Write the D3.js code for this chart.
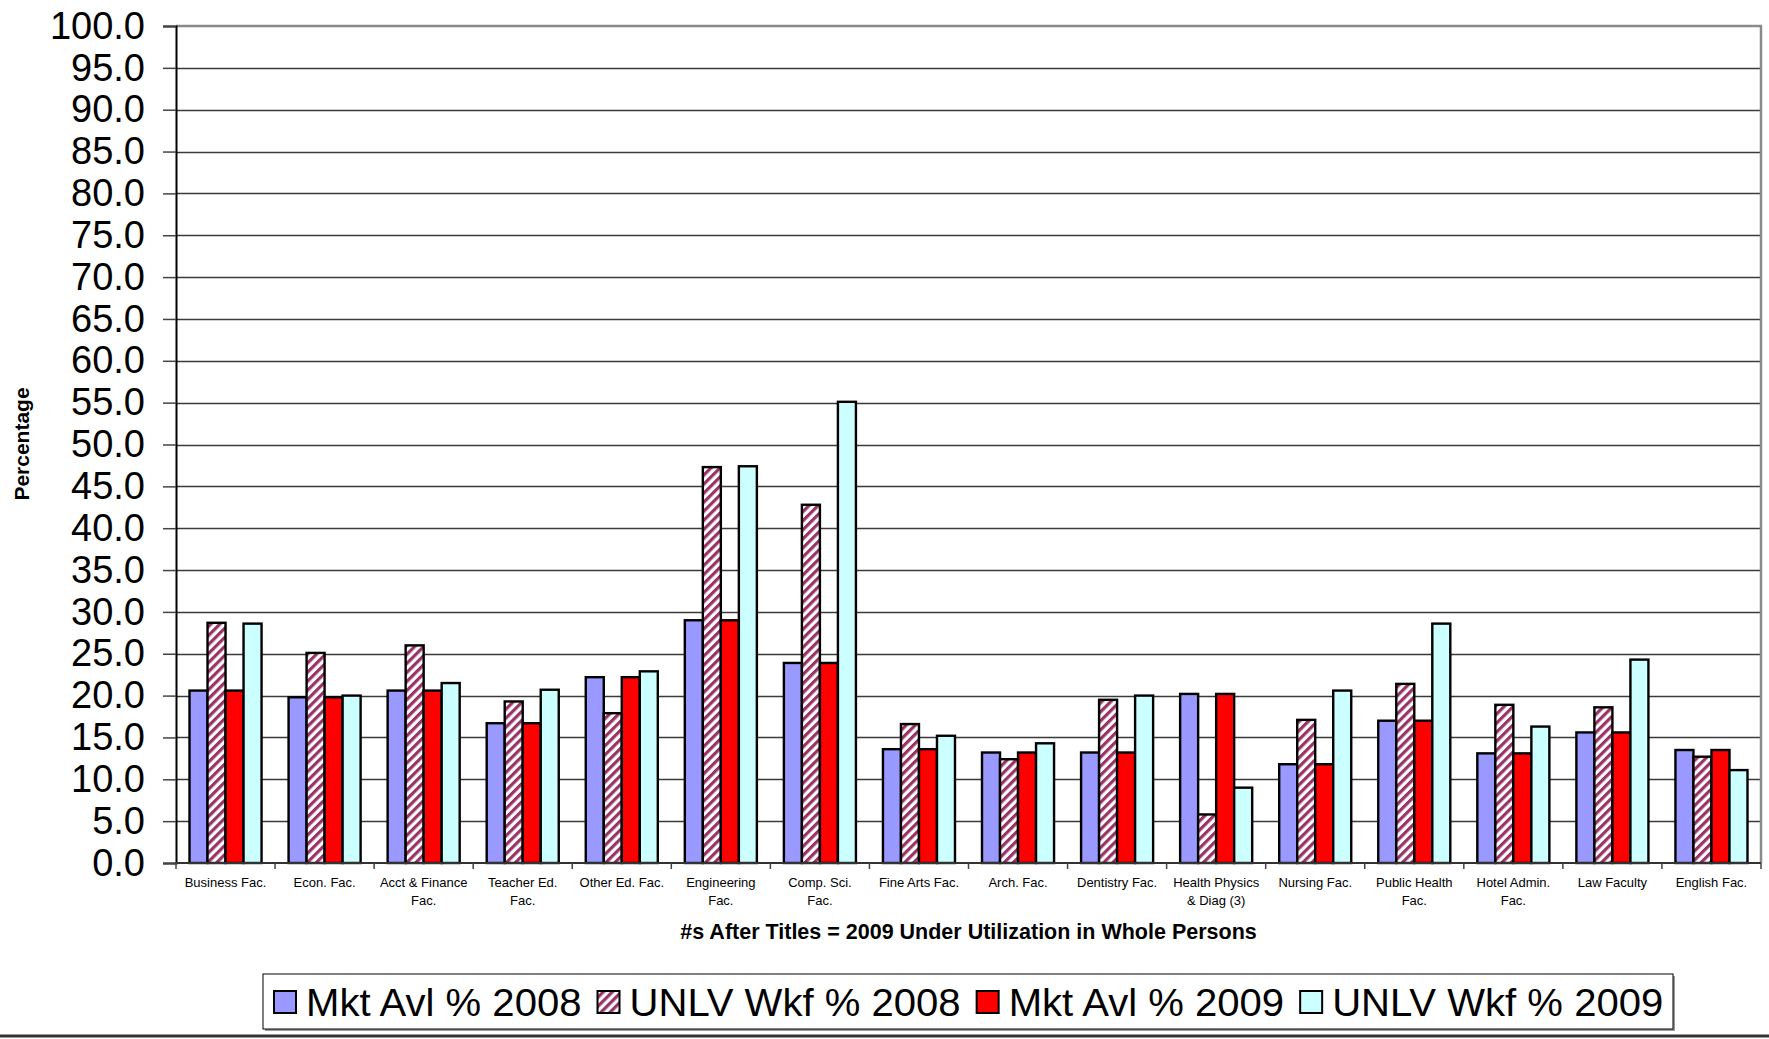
<!DOCTYPE html>
<html>
<head>
<meta charset="utf-8">
<script src="https://cdn.jsdelivr.net/npm/d3@7"></script>
<style>
  html, body { margin: 0; padding: 0; background: #fff; }
  svg { display: block; font-family: "Liberation Sans", Arial, sans-serif; }
</style>
</head>
<body>
<svg id="chart" width="1769" height="1039"></svg>
<script>
// Faculty categories (line breaks mark wrapped axis labels)
const categories = [
  "Business Fac.", "Econ. Fac.", "Acct & Finance\nFac.", "Teacher Ed.\nFac.",
  "Other Ed. Fac.", "Engineering\nFac.", "Comp. Sci.\nFac.", "Fine Arts Fac.",
  "Arch. Fac.", "Dentistry Fac.", "Health Physics\n& Diag (3)", "Nursing Fac.",
  "Public Health\nFac.", "Hotel Admin.\nFac.", "Law Faculty", "English Fac."
];

const seriesNames = ["Mkt Avl % 2008", "UNLV Wkf % 2008", "Mkt Avl % 2009", "UNLV Wkf % 2009"];

const mktAvl2008  = [20.6, 19.8, 20.6, 16.7, 22.2, 29.0, 23.9, 13.6, 13.2, 13.2, 20.2, 11.8, 17.0, 13.1, 15.6, 13.5];
const unlvWkf2008 = [28.7, 25.1, 26.0, 19.3, 17.9, 47.3, 42.8, 16.6, 12.4, 19.5,  5.8, 17.1, 21.4, 18.9, 18.6, 12.7];
const mktAvl2009  = [20.6, 19.8, 20.6, 16.7, 22.2, 29.0, 23.9, 13.6, 13.2, 13.2, 20.2, 11.8, 17.0, 13.1, 15.6, 13.5];
const unlvWkf2009 = [28.6, 20.0, 21.5, 20.7, 22.9, 47.4, 55.1, 15.2, 14.3, 20.0,  9.0, 20.6, 28.6, 16.3, 24.3, 11.1];

const yTicks = d3.range(0, 100.001, 5);

const seriesValues = [mktAvl2008, unlvWkf2008, mktAvl2009, unlvWkf2009];

const svg = d3.select("#chart");
const plot = { left: 176, right: 1761, top: 26, bottom: 863 };

// Hatched fill for the UNLV 2008 series
const defs = svg.append("defs");
const pat = defs.append("pattern")
  .attr("id", "hatch")
  .attr("patternUnits", "userSpaceOnUse")
  .attr("width", 6.4).attr("height", 6.4)
  .attr("patternTransform", "rotate(45)");
pat.append("rect").attr("width", 6.4).attr("height", 6.4).attr("fill", "#ffffff");
pat.append("rect").attr("width", 3.2).attr("height", 6.4).attr("fill", "#993366");

const fills = ["#9999FF", "url(#hatch)", "#FF0000", "#CCFFFF"];

const x = d3.scaleBand().domain(d3.range(categories.length))
  .range([plot.left, plot.right]).padding(0);
// four bars per group, with a gap of 150% of a bar width split around the group
const xs = d3.scaleBand().domain(d3.range(4))
  .range([x.bandwidth() * 0.75 / 5.5, x.bandwidth() * (1 - 0.75 / 5.5)]).padding(0);

const y = d3.scaleLinear().domain([0, 100]).range([plot.bottom, plot.top]);

// Horizontal gridlines
svg.append("g").selectAll("line").data(yTicks.filter(d => d > 0 && d < 100)).join("line")
  .attr("x1", plot.left).attr("x2", plot.right)
  .attr("y1", d => Math.round(y(d)) + 0.5).attr("y2", d => Math.round(y(d)) + 0.5)
  .attr("stroke", "#3a3a3a").attr("stroke-width", 1.3);

// Plot area frame (top and right)
svg.append("line").attr("x1", plot.left).attr("x2", plot.right + 1)
  .attr("y1", plot.top).attr("y2", plot.top)
  .attr("stroke", "#8a8a8a").attr("stroke-width", 2.5);
svg.append("line").attr("x1", plot.right).attr("x2", plot.right)
  .attr("y1", plot.top).attr("y2", plot.bottom)
  .attr("stroke", "#8a8a8a").attr("stroke-width", 2.5);

// Bars
const groups = svg.append("g").selectAll("g").data(seriesValues).join("g")
  .attr("fill", (d, i) => fills[i]);
groups.selectAll("rect").data((vals, si) => vals.map((v, ci) => ({ v, ci, si }))).join("rect")
  .attr("x", d => x(d.ci) + xs(d.si))
  .attr("width", xs.bandwidth())
  .attr("y", d => y(d.v))
  .attr("height", d => y(0) - y(d.v))
  .attr("stroke", "#000").attr("stroke-width", 2.4);

// Y axis
const yAxis = svg.append("g").attr("transform", `translate(${plot.left},0)`)
  .call(d3.axisLeft(y).tickValues(yTicks).tickFormat(d3.format(".1f")).tickSize(13).tickPadding(18));
yAxis.select(".domain").attr("stroke", "#000").attr("stroke-width", 2);
yAxis.selectAll(".tick line").attr("stroke", "#444").attr("stroke-width", 1.5);
yAxis.selectAll(".tick text").attr("font-size", 38).attr("fill", "#000")
  .attr("font-family", "'Liberation Sans', Arial, sans-serif");

// X axis
const xAxis = svg.append("g").attr("transform", `translate(0,${plot.bottom})`);
xAxis.append("line").attr("x1", plot.left).attr("x2", plot.right)
  .attr("y1", 0).attr("y2", 0).attr("stroke", "#333").attr("stroke-width", 2);
xAxis.selectAll("line.tk").data(d3.range(categories.length + 1)).join("line")
  .attr("class", "tk")
  .attr("x1", i => i < categories.length ? x(i) : plot.right)
  .attr("x2", i => i < categories.length ? x(i) : plot.right)
  .attr("y1", 0).attr("y2", 6).attr("stroke", "#444").attr("stroke-width", 1.5);
const xl = xAxis.selectAll("text").data(categories).join("text")
  .attr("text-anchor", "middle").attr("font-size", 13).attr("fill", "#000")
  .attr("transform", (d, i) => `translate(${x(i) + x.bandwidth() / 2},24)`);
xl.selectAll("tspan").data(d => d.split("\n")).join("tspan")
  .attr("x", 0).attr("dy", (d, i) => i === 0 ? 0 : 18).text(d => d);

// Axis titles
svg.append("text").attr("x", (plot.left + plot.right) / 2).attr("y", 939)
  .attr("text-anchor", "middle").attr("font-weight", "bold").attr("font-size", 21.5)
  .text("#s After Titles = 2009 Under Utilization in Whole Persons");
svg.append("text")
  .attr("transform", "translate(29,444) rotate(-90)")
  .attr("text-anchor", "middle").attr("font-weight", "bold").attr("font-size", 21)
  .text("Percentage");

// Legend
const lg = svg.append("g");
const lgBox = { x: 263, y: 974, w: 1410, h: 55 };
lg.append("rect").attr("x", lgBox.x + 2).attr("y", lgBox.y + 2)
  .attr("width", lgBox.w).attr("height", lgBox.h).attr("fill", "#9a9a9a");
lg.append("rect").attr("x", lgBox.x).attr("y", lgBox.y)
  .attr("width", lgBox.w).attr("height", lgBox.h).attr("fill", "#fff")
  .attr("stroke", "#000").attr("stroke-width", 1);
const stretch = 1.055; // legend lettering is set slightly wide
let cx = lgBox.x + 11;
seriesNames.forEach((name, i) => {
  lg.append("rect").attr("x", cx).attr("y", 991).attr("width", 22).attr("height", 22)
    .attr("fill", fills[i]).attr("stroke", "#000").attr("stroke-width", 2);
  const tx = cx + 32;
  const t = lg.append("text")
    .attr("transform", `translate(${tx},1016) scale(${stretch},1)`)
    .attr("font-size", 38).attr("fill", "#000").text(name);
  cx = tx + t.node().getComputedTextLength() * stretch + 16;
});

// Bottom border of the chart
svg.append("line").attr("x1", 0).attr("x2", 1769).attr("y1", 1036).attr("y2", 1036)
  .attr("stroke", "#333").attr("stroke-width", 3);
</script>
</body>
</html>
